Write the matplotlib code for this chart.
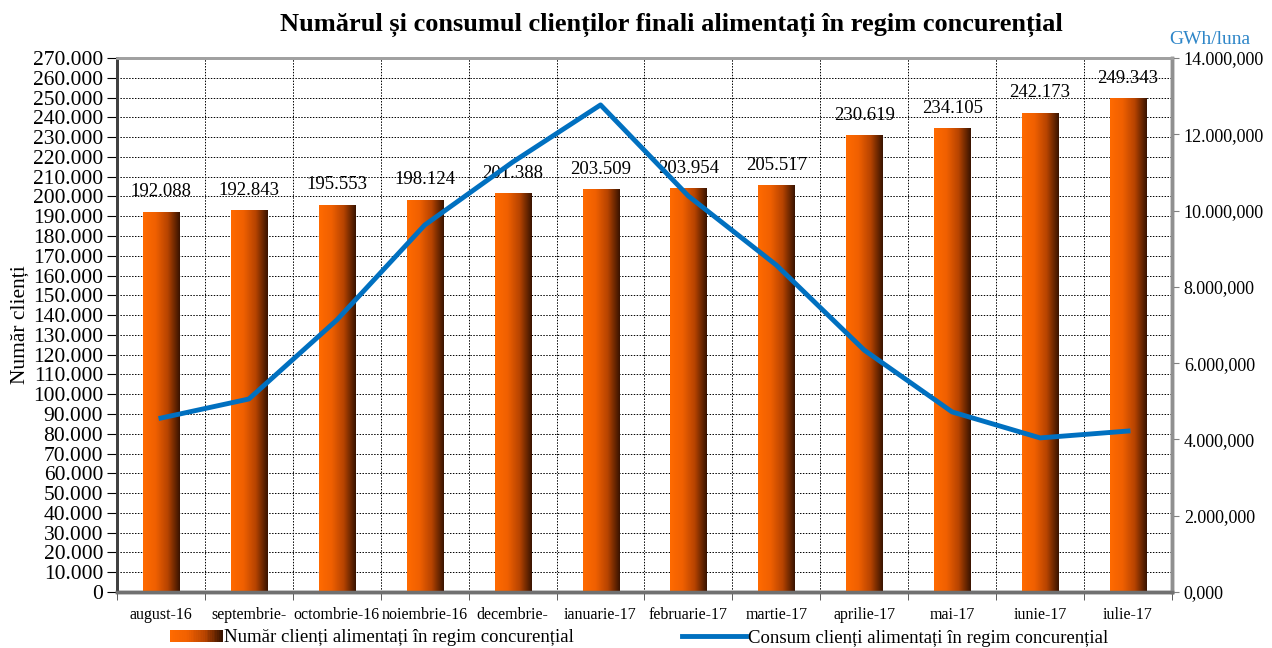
import matplotlib
matplotlib.use("Agg")
import matplotlib.pyplot as plt
import numpy as np
from matplotlib.colors import LinearSegmentedColormap
from matplotlib.legend_handler import HandlerPatch
from matplotlib.patches import Rectangle
from matplotlib.lines import Line2D
from matplotlib.ticker import FuncFormatter, MultipleLocator

plt.rcParams["font.family"] = ["Liberation Serif", "DejaVu Serif"]

luni = ["august-16", "septembrie-", "octombrie-16", "noiembrie-16", "decembrie-",
        "ianuarie-17", "februarie-17", "martie-17", "aprilie-17", "mai-17",
        "iunie-17", "iulie-17"]
nr_clienti = [192088, 192843, 195553, 198124, 201388, 203509,
              203954, 205517, 230619, 234105, 242173, 249343]
consum = [4.56e6, 5.06e6, 7.13e6, 9.62e6, 11.27e6, 12.77e6,
          10.38e6, 8.57e6, 6.34e6, 4.72e6, 4.04e6, 4.22e6]

grad = LinearSegmentedColormap.from_list("bar", ["#ff6a00", "#f06000", "#b84400", "#3a1400"])
blue = "#0070c0"


def fmt_left(v, _pos):
    return f"{int(round(v)):,}".replace(",", ".")


def fmt_right(v, _pos):
    s = f"{v:,.0f}".replace(",", ".")
    return s[:-4] + "," + s[-3:] if len(s) > 4 else "0,000"


class GradientHandler(HandlerPatch):
    def create_artists(self, legend, orig_handle, xdescent, ydescent,
                       width, height, fontsize, trans):
        n = 30
        arts = []
        for i in range(n):
            r = Rectangle((-xdescent + width * i / n, -ydescent), width / n + 0.3, height,
                          facecolor=grad(i / (n - 1)), edgecolor="none", transform=trans)
            arts.append(r)
        return arts


fig = plt.figure(figsize=(12.72, 6.48), dpi=100)
ax = fig.add_axes([117 / 1272, 1 - 592 / 648, (1172 - 117) / 1272, (592 - 58) / 648])
ax2 = ax.twinx()

x = np.arange(len(luni))
bars = ax.bar(x, nr_clienti, width=0.41, color="none", edgecolor="none", zorder=3)
grad_img = np.linspace(0, 1, 64).reshape(1, -1)
for b in bars:
    x0, y0 = b.get_x(), b.get_y()
    ax.imshow(grad_img, cmap=grad, aspect="auto", zorder=3,
              extent=[x0, x0 + b.get_width(), y0, y0 + b.get_height()])
for xi, v in zip(x, nr_clienti):
    ax.text(xi, v + 6000, f"{v:,}".replace(",", "."), ha="center", va="bottom",
            fontsize=13.5, zorder=4)

ax.set_xlim(-0.5, len(luni) - 0.5)
ax.set_ylim(0, 270000)
ax.yaxis.set_major_locator(MultipleLocator(10000))
ax.yaxis.set_major_formatter(FuncFormatter(fmt_left))
ax.set_xticks(x)
ax.set_xticklabels(luni, fontsize=11.5)
ax.set_xticks(np.arange(-0.5, len(luni)), minor=True)
ax.tick_params(axis="x", which="major", length=0, pad=11)
ax.tick_params(axis="x", which="minor", length=6, color="#404040")
ax.tick_params(axis="y", labelsize=15.5, length=7, pad=3)
ax.grid(True, axis="y", which="major", color="black", linestyle=(0, (1.5, 1.5)), linewidth=0.7)
ax.grid(True, axis="x", which="minor", color="black", linestyle=(0, (1.5, 1.5)), linewidth=0.7)
ax.set_axisbelow(True)
ax.set_ylabel("Număr clienți", fontsize=15.5)
ax.yaxis.set_label_coords(-0.083, 0.5)

ax2.plot(x, consum, color=blue, linewidth=3.5, zorder=5)
ax2.set_ylim(0, 14e6)
ax2.yaxis.set_major_locator(MultipleLocator(2e6))
ax2.yaxis.set_major_formatter(FuncFormatter(fmt_right))
ax2.tick_params(axis="y", labelsize=13, length=5, color="#808080")

for a in (ax, ax2):
    a.spines["left"].set_color("#404040")
    a.spines["left"].set_linewidth(2)
    a.spines["bottom"].set_color("#707070")
    a.spines["bottom"].set_linewidth(2.5)
    a.spines["right"].set_color("#909090")
    a.spines["right"].set_linewidth(2.5)
    a.spines["top"].set_color("#a0a0a0")
    a.spines["top"].set_linewidth(2)

fig.text(0.528, 1 - 25 / 648, "Numărul și consumul clienților finali alimentați în regim concurențial",
         ha="center", va="center", fontsize=19, fontweight="bold")
fig.text(1210 / 1272, 1 - 40 / 648, "GWh/luna", ha="center", va="center", fontsize=14, color="#2e86c8")

h1 = Rectangle((0, 0), 1, 1)
h2 = Line2D([], [], color=blue, linewidth=3.5)
fig.legend([h1], ["Număr clienți alimentați în regim concurențial"],
           handler_map={Rectangle: GradientHandler()}, loc="center",
           bbox_to_anchor=(372 / 1272, 1 - 638 / 648), frameon=False, fontsize=13.5,
           handlelength=2.8, handleheight=0.6, handletextpad=0.1)
fig.legend([h2], ["Consum clienți alimentați în regim concurențial"], loc="center",
           bbox_to_anchor=(895 / 1272, 1 - 638 / 648), frameon=False, fontsize=13.5,
           handlelength=3.4, handletextpad=0.1)

fig.savefig("out.png", dpi=100)
